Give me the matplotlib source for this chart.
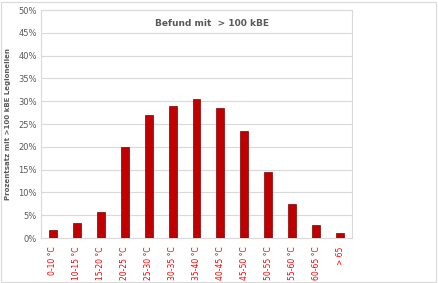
import matplotlib.pyplot as plt
import numpy as np
from matplotlib.patches import Rectangle

# data
categories = ["0-10 °C", "10-15 °C", "15-20 °C", "20-25 °C", "25-30 °C", "30-35 °C",
              "35-40 °C", "40-45 °C", "45-50 °C", "50-55 °C", "55-60 °C", "60-65 °C", "> 65"]
values = [1.8, 3.3, 5.6, 19.9, 27.0, 29.0, 30.5, 28.5, 23.5, 14.5, 7.4, 2.9, 1.1]
yticks = [0, 5, 10, 15, 20, 25, 30, 35, 40, 45, 50]

grey = "#595959"

fig = plt.figure(figsize=(4.38, 2.83), dpi=100)
ax = fig.add_axes([41 / 438, 45 / 283, 311 / 438, 228 / 283])

x = np.arange(len(categories))
ax.bar(x, values, width=0.33, color="#C00000", edgecolor="#7F0000", linewidth=0.5, zorder=3)

ax.set_xlim(-0.5, len(categories) - 0.5)
ax.set_ylim(0, 50)
ax.set_yticks(yticks)
ax.set_yticklabels([f"{t}%" for t in yticks], fontsize=6, color=grey)
ax.set_xticks(x)
ax.set_xticklabels(categories, rotation=90, fontsize=5.5, color="#FF0000", va="top", ha="center")
ax.tick_params(length=0, pad=3)
ax.tick_params(axis="x", pad=6)
ax.grid(axis="y", color="#D9D9D9", linewidth=0.8, zorder=0)
for s in ax.spines.values():
    s.set_color("#D9D9D9")
    s.set_linewidth(0.8)

ax.text(0.55, 0.94, "Befund mit  > 100 kBE", transform=ax.transAxes, ha="center", va="center",
        fontsize=6.5, color=grey, fontweight="bold")
fig.text(8 / 438, 0.56, "Prozentsatz mit >100 kBE Legionellen", rotation=90, ha="center", va="center",
         fontsize=5, color=grey, fontweight="bold")

fig.patches.append(Rectangle((0.002, 0.004), 0.994, 0.99, transform=fig.transFigure,
                             fill=False, edgecolor="#D9D9D9", linewidth=0.8))

fig.savefig("out.png", dpi=100)
